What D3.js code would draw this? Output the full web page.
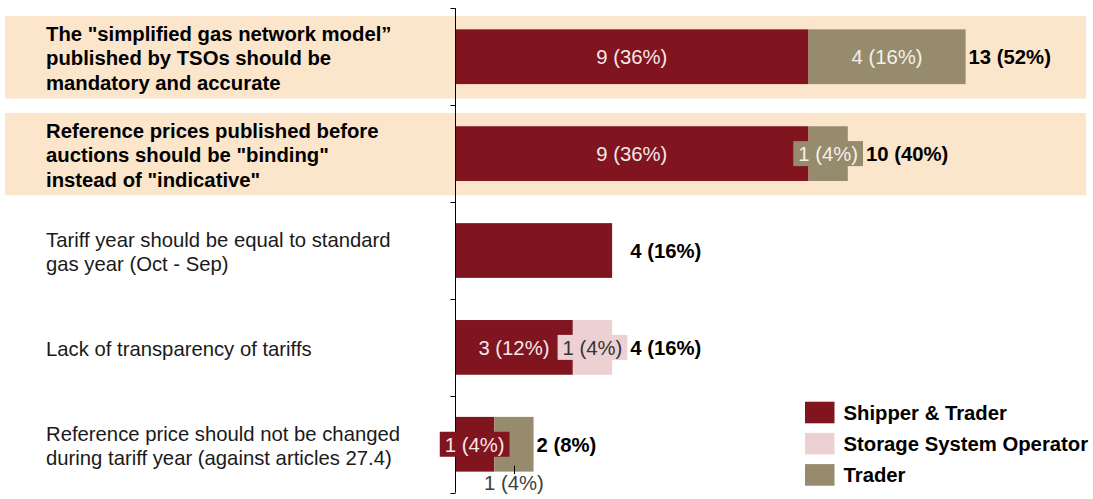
<!DOCTYPE html>
<html>
<head>
<meta charset="utf-8">
<script src="https://cdn.jsdelivr.net/npm/d3@7"></script>
<style>
  html, body { margin: 0; padding: 0; background: #fff; }
  svg { display: block; font-family: "Liberation Sans", Arial, Helvetica, sans-serif; }
</style>
</head>
<body>
<svg id="chart" width="1093" height="499"></svg>
<script>
// Survey answers: number of respondents per statement, split by respondent type
const categories = [
  ["The \"simplified gas network model\u201d", "published by TSOs should be", "mandatory and accurate"],
  ["Reference prices published before", "auctions should be \"binding\"", "instead of \"indicative\""],
  ["Tariff year should be equal to standard", "gas year (Oct - Sep)"],
  ["Lack of transparency of tariffs"],
  ["Reference price should not be changed", "during tariff year (against articles 27.4)"]
];
const highlighted = [true, true, false, false, false];
const seriesNames = ["Shipper & Trader", "Storage System Operator", "Trader"];
const shipperTrader = [9, 9, 4, 3, 1];
const storageOperator = [0, 0, 0, 1, 0];
const trader = [4, 1, 0, 0, 1];
const respondents = 25;

const colors = ["#80141f", "#edd0d2", "#978b6e"];
const labelColors = ["#f6e8e8", "#333333", "#f4f0e8"];

const svg = d3.select("#chart");

const rows = categories.map((lines, i) => ({
  key: i, lines, highlight: highlighted[i],
  s0: shipperTrader[i], s1: storageOperator[i], s2: trader[i]
}));
const keys = ["s0", "s1", "s2"];
const stacked = d3.stack().keys(keys)(rows);

const x = d3.scaleLinear().domain([0, 13]).range([455, 965.6]);
const y = d3.scaleBand().domain(rows.map(d => d.key)).range([8.3, 492.7]).padding(0);
const bw = y.bandwidth();
const barH = bw * 0.565;
const bgH = bw * 0.85;
const cy = k => y(k) + bw / 2;

const pct = v => `${v} (${Math.round(v / respondents * 100)}%)`;

// highlighted rows get a peach background strip
svg.append("g").selectAll("rect")
  .data(rows.filter(d => d.highlight))
  .join("rect")
  .attr("x", 5).attr("width", 1081)
  .attr("y", d => cy(d.key) - bgH / 2 + 0.5)
  .attr("height", bgH)
  .attr("fill", "#fbe5cb");

// category labels
const fs = 20.3, lh = 24.5;
const catG = svg.append("g");
rows.forEach(d => {
  const n = d.lines.length;
  const t = catG.append("text")
    .attr("font-size", fs)
    .attr("font-weight", d.highlight ? "bold" : "normal")
    .attr("fill", d.highlight ? "#000" : "#1a1a1a");
  d.lines.forEach((ln, i) => {
    t.append("tspan")
      .attr("x", 46)
      .attr("y", cy(d.key) + 1.5 + (i - (n - 1) / 2) * lh + 7)
      .text(ln);
  });
});

// stacked bars
const barG = svg.append("g");
stacked.forEach((layer, si) => {
  barG.append("g").selectAll("rect")
    .data(layer.filter(s => s[1] > s[0]))
    .join("rect")
    .attr("x", s => x(s[0]))
    .attr("width", s => x(s[1]) - x(s[0]))
    .attr("y", s => cy(s.data.key) - barH / 2)
    .attr("height", barH)
    .attr("fill", colors[si]);
});

// axis with ticks at band boundaries
const axisG = svg.append("g").attr("stroke", "#000").attr("stroke-width", 1).attr("fill", "none");
const x0 = Math.round(x(0)) + 0.5;
const bounds = rows.map(d => y(d.key)).concat([y(rows[rows.length - 1].key) + bw]);
axisG.append("path").attr("d", `M${x0},${bounds[0]}V${bounds[bounds.length - 1]}`);
axisG.selectAll("line.tick").data(bounds).join("line")
  .attr("x1", x0 - 5).attr("x2", x0)
  .attr("y1", b => Math.round(b) + 0.5).attr("y2", b => Math.round(b) + 0.5);

// segment labels (only for bars with more than one segment): inside when
// they fit, otherwise on a coloured box, and below the bar with a leader
// when the box would collide with the label to its left
const labG = svg.append("g").attr("font-size", fs);
const rightEdge = rows.map(d => x(d.s0 + d.s1 + d.s2));
rows.forEach((d, ri) => {
  const nonZero = keys.filter(k => d[k] > 0).length;
  if (nonZero < 2) return;
  let prevRight = -Infinity;
  keys.forEach((k, si) => {
    const v = d[k];
    if (!v) return;
    const seg = stacked[si][ri];
    const xa = x(seg[0]), xb = x(seg[1]);
    const xc = (xa + xb) / 2;
    const c = cy(d.key);
    const g = labG.append("g");
    const t = g.append("text")
      .attr("x", xc).attr("y", c + 7.3)
      .attr("text-anchor", "middle")
      .attr("fill", labelColors[si])
      .text(pct(v));
    const tw = t.node().getComputedTextLength();
    if (tw + 8 <= xb - xa) { prevRight = xc + tw / 2; return; }
    const boxW = tw + 10, boxH = 25;
    const bx = xc - boxW / 2;
    if (bx < prevRight) {
      const bottom = c + barH / 2;
      g.append("line")
        .attr("x1", Math.round(xc) + 0.5).attr("x2", Math.round(xc) + 0.5)
        .attr("y1", bottom - 6).attr("y2", bottom + 2.5)
        .attr("stroke", "#000").attr("stroke-width", 1);
      t.attr("y", bottom + 18).attr("fill", "#404040");
      return;
    }
    g.insert("rect", "text")
      .attr("x", bx).attr("width", boxW)
      .attr("y", c - boxH / 2).attr("height", boxH)
      .attr("fill", colors[si]);
    prevRight = bx + boxW;
    rightEdge[ri] = Math.max(rightEdge[ri], bx + boxW);
  });
});

// totals at the end of each bar; equal totals share one x position
const totals = rows.map(d => d.s0 + d.s1 + d.s2);
const totalX = rows.map((d, i) => rightEdge[i] + 3);
const byTotal = d3.rollup(totals.map((t, i) => [t, totalX[i]]), v => d3.max(v, e => e[1]), e => e[0]);
svg.append("g").selectAll("text")
  .data(rows)
  .join("text")
  .attr("x", (d, i) => byTotal.get(totals[i]))
  .attr("y", d => cy(d.key) + 7.3)
  .attr("font-size", fs)
  .attr("font-weight", "bold")
  .attr("fill", "#000")
  .text((d, i) => pct(totals[i]));

// legend
const legG = svg.append("g").attr("transform", "translate(805,401.7)");
seriesNames.forEach((name, i) => {
  const row = legG.append("g").attr("transform", `translate(0,${i * 31.2})`);
  row.append("rect").attr("width", 29.5).attr("height", 21.6).attr("fill", colors[i]);
  row.append("text")
    .attr("x", 38.5).attr("y", 10.8 + 7.5)
    .attr("font-size", fs).attr("font-weight", "bold").attr("fill", "#000")
    .text(name);
});
</script>
</body>
</html>
